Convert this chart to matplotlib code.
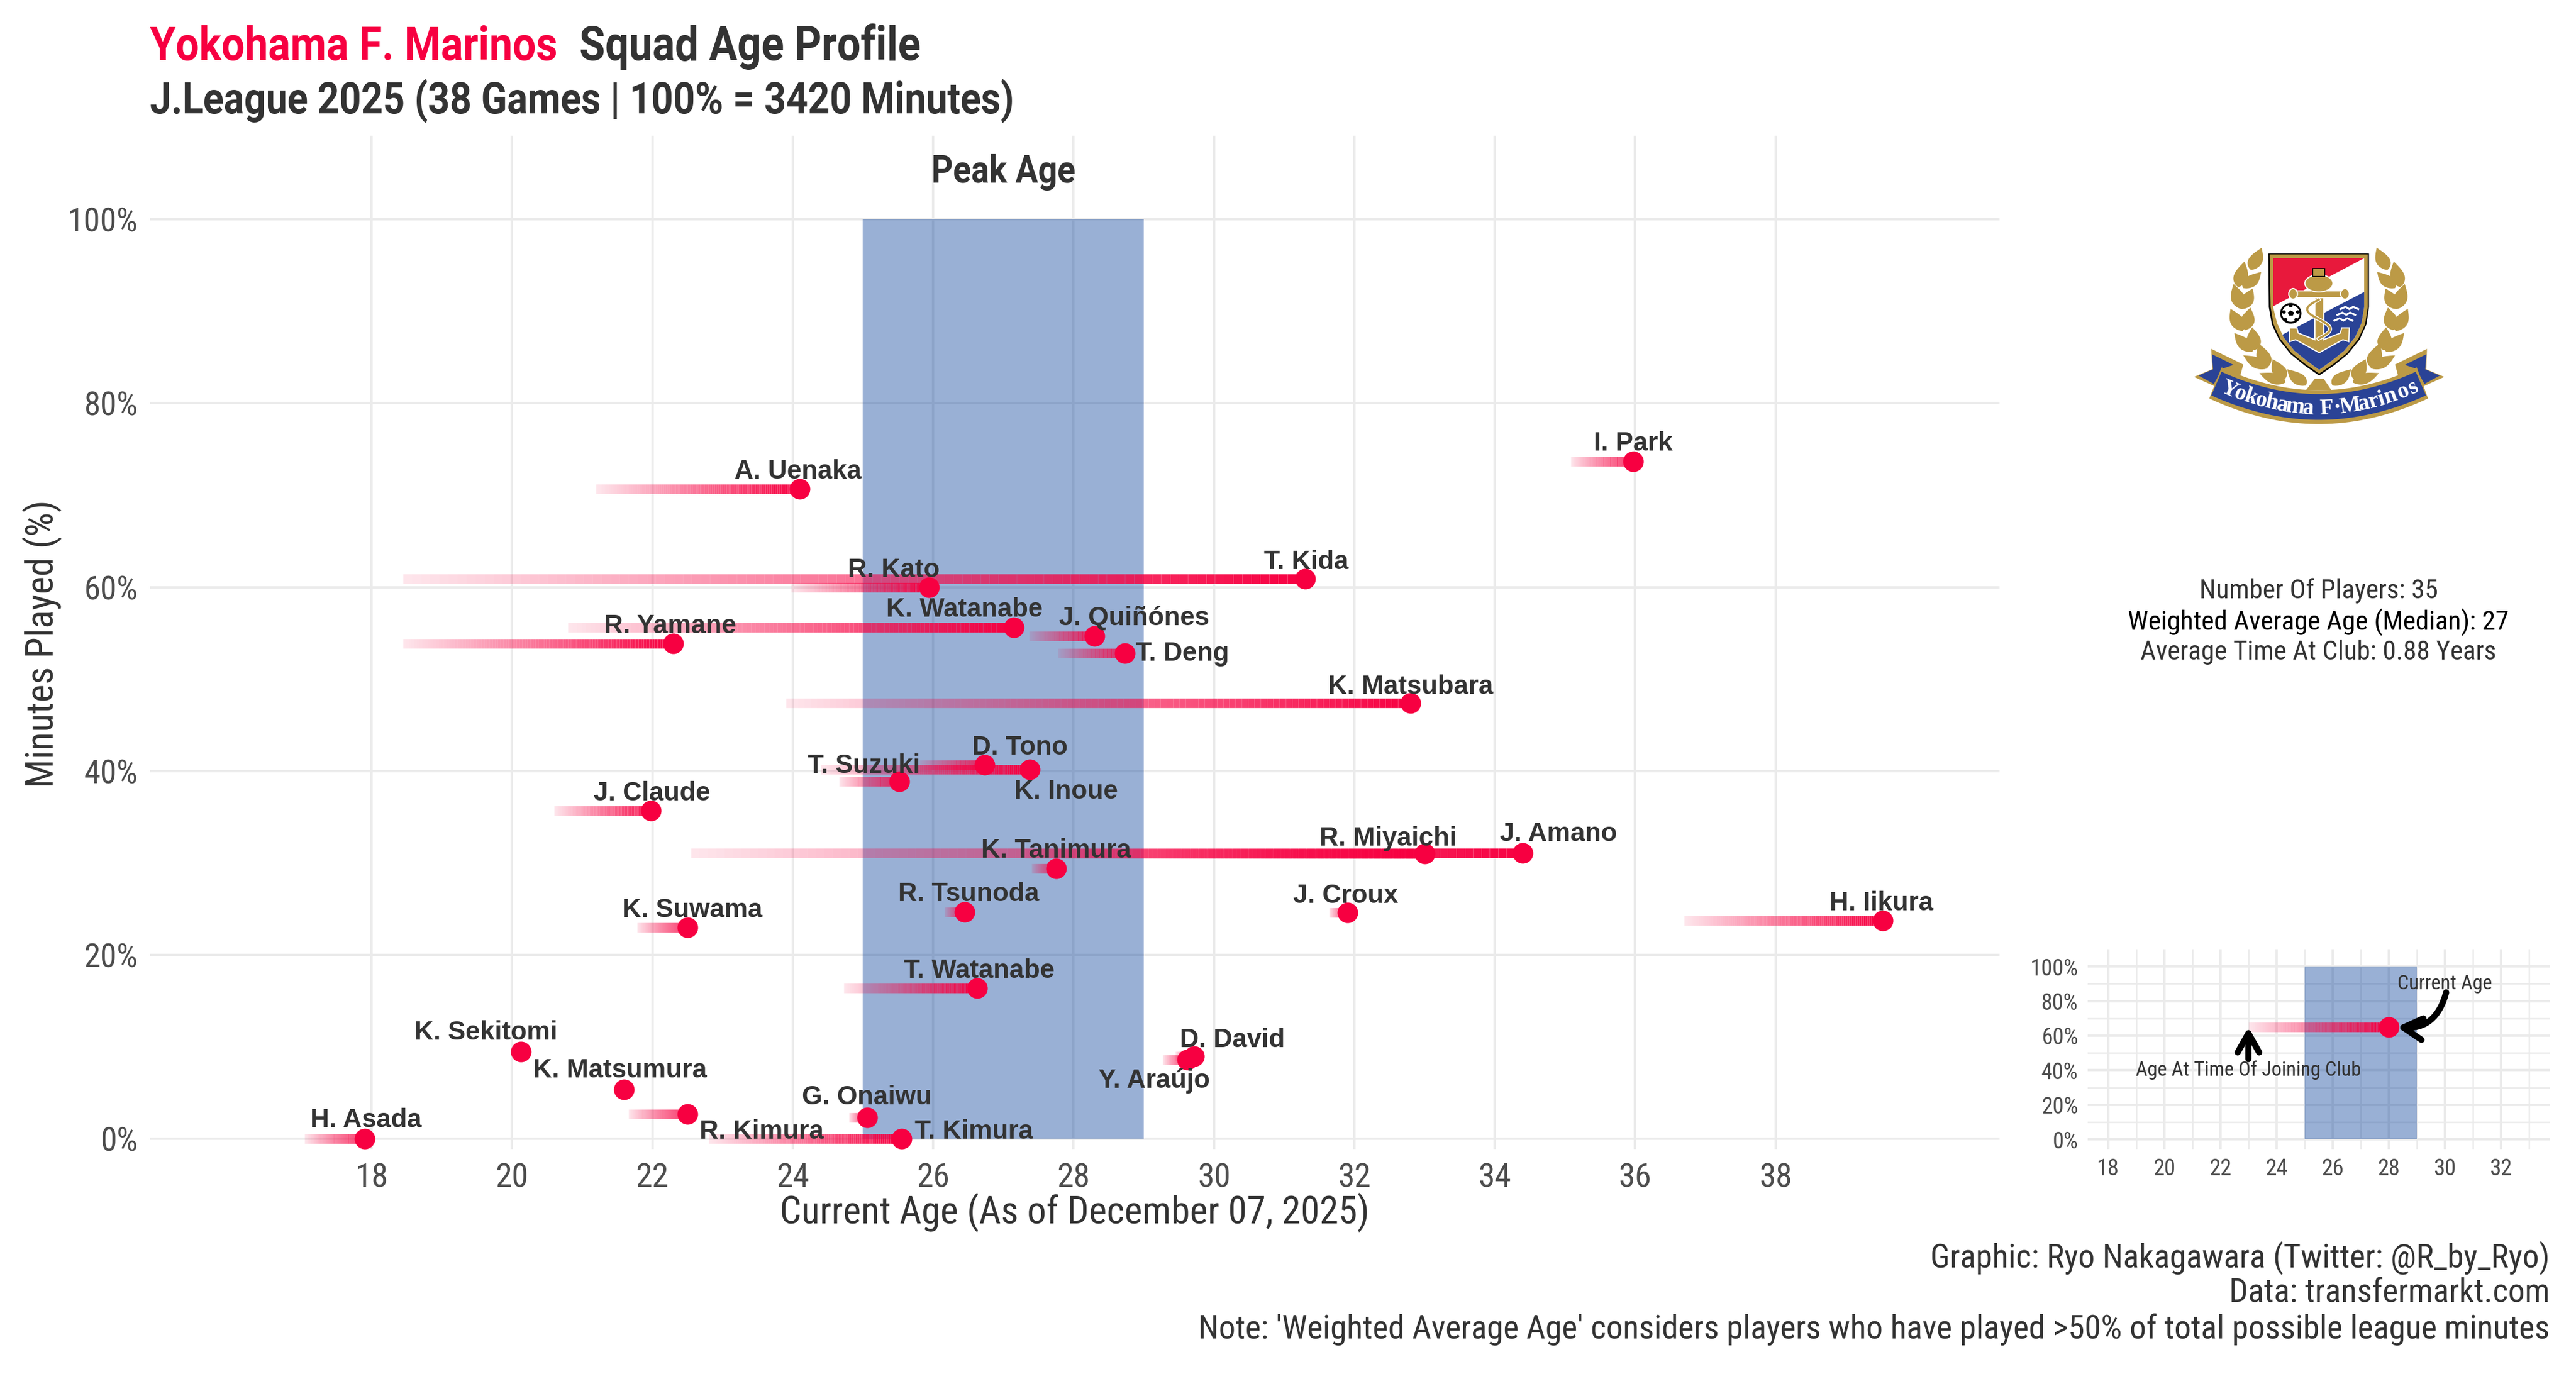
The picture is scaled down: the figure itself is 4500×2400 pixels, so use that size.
import os
import tempfile
import numpy as np
import matplotlib
matplotlib.use("Agg")
import matplotlib.pyplot as plt
from matplotlib import font_manager as fm
from matplotlib.collections import LineCollection
from matplotlib.patches import Polygon, Ellipse, FancyArrowPatch, Rectangle

W, H = 4500, 2400
RED = "#F70041"
BLUE = "#003A98"
INK = "#333333"
TICK = "#4D4D4D"
GRID = "#EBEBEB"
GOLD = "#BC9A46"
LOGO_BLUE = "#2A4396"
LABEL = "Liberation Sans"

players = ["H. Asada", "K. Sekitomi", "K. Matsumura", "R. Kimura", "T. Kimura", "G. Onaiwu",
           "T. Watanabe", "D. David", "Y. Araújo", "K. Suwama", "R. Tsunoda", "J. Croux",
           "H. Iikura", "K. Tanimura", "R. Miyaichi", "J. Amano", "J. Claude", "T. Suzuki",
           "D. Tono", "K. Inoue", "K. Matsubara", "T. Deng", "J. Quiñónes", "K. Watanabe",
           "R. Yamane", "R. Kato", "T. Kida", "A. Uenaka", "I. Park"]
current_age = [17.9, 20.13, 21.6, 22.5, 25.55, 25.06, 26.63, 29.72, 29.62, 22.5, 26.45, 31.9,
               39.53, 27.75, 33.0, 34.4, 21.98, 25.52, 26.73, 27.38, 32.8, 28.73, 28.3, 27.15,
               22.3, 25.94, 31.3, 24.1, 35.97]
joined_age = [17.05, 20.13, 21.6, 21.66, 22.8, 24.8, 24.73, 29.45, 29.27, 21.78, 26.16, 31.64,
              36.7, 27.4, 27.3, 22.55, 20.6, 24.66, 25.8, 24.4, 23.9, 27.78, 27.37, 20.8,
              18.45, 23.98, 18.45, 21.2, 35.08]
minutes_pct = [0.0, 9.5, 5.4, 2.7, 0.0, 2.3, 16.4, 9.0, 8.6, 23.0, 24.7, 24.6, 23.75, 29.4,
               31.0, 31.1, 35.7, 38.9, 40.7, 40.2, 47.4, 52.8, 54.7, 55.6, 53.9, 60.0, 60.9,
               70.7, 73.7]
# label offsets from each point, in pixels of the reference preview
label_dx = [1, -21.5, -2.5, 45, 44, 0, 1, 23, -20, 3, 2.5, -1, -1, 0, -22, 21.5, 0.5, -21.5,
            21.5, 22, 0, 35, 24, -30, -2, -21.5, 0.5, -1, 0]
label_dy = [11.3, 11.3, 11.3, -10.7, 4.3, 12.3, 10.3, 9.8, -12.7, 10.3, 10.8, 10.3, 10.3, 10.8, 9.3,
            11.3, 10.3, 9.3, 10.3, -13.7, 9.8, -0.2, 10.8, 10.8, 10.3, 10.3, 10.3, 10.3, 10.8]

x_ticks = list(range(18, 40, 2))
y_ticks = [0, 20, 40, 60, 80, 100]
inset_x_ticks = list(range(18, 34, 2))
inset_minor_x = list(range(19, 35, 2))
inset_minor_y = [10, 30, 50, 70, 90]
peak_range = (25, 29)
example = dict(joined=23, current=28, minutes=65)


def condensed_font(weight, family, factor):
    """Derive a condensed family from the installed Roboto (no condensed cut is installed)."""
    from fontTools.ttLib import TTFont
    src = fm.findfont(fm.FontProperties(family="Roboto", weight=weight))
    font = TTFont(src)
    if "fvar" in font:
        from fontTools.varLib import instancer
        axes = {a.axisTag: a.defaultValue for a in font["fvar"].axes}
        if "wght" in axes:
            axes["wght"] = 700 if weight == "bold" else 400
        if "wdth" in axes:
            axes["wdth"] = 75
            factor = 1.0
        font = instancer.instantiateVariableFont(font, axes)
    if factor != 1.0:
        glyf = font["glyf"]
        hmtx = font["hmtx"]
        for gn in font.getGlyphOrder():
            g = glyf[gn]
            if g.isComposite():
                for c in g.components:
                    c.x = int(round(c.x * factor))
            elif g.numberOfContours > 0:
                g.coordinates.scale((factor, 1.0))
                g.coordinates.toInt()
            if hasattr(g, "removeHinting"):
                g.removeHinting()
            adv, lsb = hmtx[gn]
            hmtx[gn] = (int(round(adv * factor)), int(round(lsb * factor)))
        for tag in ("fpgm", "prep", "cvt ", "hdmx", "VDMX", "LTSH", "GPOS", "kern"):
            if tag in font:
                del font[tag]
    for rec in list(font["name"].names):
        if rec.nameID in (1, 4, 16):
            rec.string = family
        elif rec.nameID == 6:
            rec.string = family.replace(" ", "")
        elif rec.nameID in (2, 17):
            rec.string = "Regular"
    font["OS/2"].usWeightClass = 400
    font["OS/2"].fsSelection = (font["OS/2"].fsSelection & ~0x21) | 0x40
    font["head"].macStyle = 0
    path = os.path.join(tempfile.mkdtemp(), family.replace(" ", "") + ".ttf")
    font.save(path)
    fm.fontManager.addfont(path)
    return family


SIZE = 1.0
try:
    REG = condensed_font("normal", "RCond Regular", 0.886)
    BOLD = condensed_font("bold", "RCond Heavy", 0.88)
except Exception:
    REG = BOLD = "Roboto"
    SIZE = 0.88

plt.rcParams["font.family"] = [REG, "DejaVu Sans"]
fig = plt.figure(figsize=(15, 8), dpi=300, facecolor="white")


def axes_px(l, t, r, b, **kw):
    return fig.add_axes([l / W, 1 - b / H, (r - l) / W, (b - t) / H], **kw)


def ftext(x, y, s, size, **kw):
    return fig.text(x / W, 1 - y / H, s, fontsize=size * SIZE, **kw)


def gradient_link(ax, x0, x1, y, lw, z=3, n=100):
    if x1 <= x0:
        return
    xs = np.linspace(x0, x1, n + 1)
    segs = [[(xs[i], y), (xs[i + 1], y)] for i in range(n)]
    base = matplotlib.colors.to_rgb(RED)
    cols = [(*base, 0.1 + 0.9 * i / (n - 1)) for i in range(n)]
    ax.add_collection(LineCollection(segs, colors=cols, linewidths=lw, capstyle="butt", zorder=z))


def style(ax, xlim, ylim, xt, yt, lw, size):
    ax.set_xlim(*xlim)
    ax.set_ylim(*ylim)
    ax.set_xticks(xt)
    ax.set_yticks(yt)
    ax.set_yticklabels([f"{v}%" for v in yt])
    ax.grid(True, color=GRID, lw=lw, zorder=0)
    ax.set_axisbelow(True)
    for s in ax.spines.values():
        s.set_visible(False)
    ax.tick_params(length=0, labelsize=size * SIZE, labelcolor=TICK)


# ---- main panel
ax = axes_px(262, 237, 3493, 2007)
style(ax, (14.845, 41.19), (-1.1, 109.1), x_ticks, y_ticks, 1.0, 14)
ax.tick_params(axis="x", pad=5.6)
ax.tick_params(axis="y", pad=5)
ax.add_patch(Rectangle((peak_range[0], 0), peak_range[1] - peak_range[0], 100,
                       fc=BLUE, alpha=0.4, ec="none", zorder=1))
for a0, a1, m in zip(joined_age, current_age, minutes_pct):
    gradient_link(ax, a0, a1, m, 4.0)
ax.scatter(current_age, minutes_pct, s=(36 / 300 * 72) ** 2, c=RED, linewidths=0, zorder=4, clip_on=False)
K = W / 1568
for name, a, m, dx, dy in zip(players, current_age, minutes_pct, label_dx, label_dy):
    ax.annotate(name, (a, m), xytext=(dx * K, dy * K), textcoords="offset pixels",
                ha="center", va="center", fontsize=11, fontweight="bold",
                family=LABEL, color=INK, zorder=5, annotation_clip=False)
ax.text(27, 105.1, "Peak Age", ha="center", va="center", fontsize=16 * SIZE, fontweight="bold",
        family=BOLD, color=INK)

# ---- titles and notes
ftext(262, 105, "Yokohama F. Marinos", 19.8, fontweight="bold", family=BOLD, color=RED, va="baseline")
ftext(1012, 105, "Squad Age Profile", 20, fontweight="bold", family=BOLD, color=INK, va="baseline")
ftext(262, 198, "J.League 2025 (38 Games | 100% = 3420 Minutes)", 18.2, fontweight="bold", family=BOLD,
      color=INK, va="baseline")
ftext(1877, 2118, "Current Age (As of December 07, 2025)", 16, color=INK, ha="center", va="center")
ftext(74, 1125, "Minutes Played (%)", 16, color=INK, rotation=90, ha="center", va="center")
ftext(4050, 1032, "Number Of Players: 35", 11.3, color=INK, ha="center", va="center")
ftext(4050, 1086, "Weighted Average Age (Median): 27", 11.3, color="black", ha="center", va="center")
ftext(4050, 1139, "Average Time At Club: 0.88 Years", 11.3, color=INK, ha="center", va="center")
ftext(4454, 2197, "Graphic: Ryo Nakagawara (Twitter: @R_by_Ryo)", 13.92, color=INK, ha="right", va="center")
ftext(4454, 2258, "Data: transfermarkt.com", 13.92, color=INK, ha="right", va="center")
ftext(4454, 2322, "Note: 'Weighted Average Age' considers players who have played >50% of total possible league minutes",
      13.92, color=INK, ha="right", va="center")

# ---- inset legend panel
ins = axes_px(3647, 1658, 4454, 2007)
style(ins, (17.27, 33.74), (-5.6, 110), inset_x_ticks, y_ticks, 1.0, 9.5)
ins.set_xticks(inset_minor_x, minor=True)
ins.set_yticks(inset_minor_y, minor=True)
ins.grid(True, which="minor", color=GRID, lw=0.6, zorder=0)
ins.tick_params(which="minor", length=0)
ins.tick_params(axis="x", pad=3.6)
ins.tick_params(axis="y", pad=4)
ins.add_patch(Rectangle((peak_range[0], 0), peak_range[1] - peak_range[0], 100,
                        fc=BLUE, alpha=0.4, ec="none", zorder=1))
gradient_link(ins, example["joined"], example["current"], example["minutes"], 4.0)
ins.scatter([example["current"]], [example["minutes"]], s=(36 / 300 * 72) ** 2, c=RED, linewidths=0, zorder=4)
ins.text(30, 90, "Current Age", ha="center", va="center", fontsize=8.5 * SIZE, color=INK, zorder=6)
ins.text(23, 40, "Age At Time Of Joining Club", ha="center", va="center", fontsize=8.5 * SIZE, color=INK, zorder=6)
head = "->,head_length=8,head_width=4.5"
ins.add_patch(FancyArrowPatch((23, 46.4), (23, 65), arrowstyle=head, color="black", lw=2.6,
                              shrinkA=0, shrinkB=0, capstyle="round", joinstyle="round", zorder=5))
ins.add_patch(FancyArrowPatch((30.05, 85), (28.3, 65), arrowstyle=head, color="black", lw=2.6,
                              connectionstyle="arc3,rad=-0.42", shrinkA=0, shrinkB=0,
                              capstyle="round", joinstyle="round", zorder=5))

# ---- club crest
lg = axes_px(3700, 380, 4400, 780)
lg.set_xlim(0, 1568)
lg.set_ylim(1200, 0)
lg.axis("off")
lg.patch.set_alpha(0)


def leaf(base, tip, width=28, color=GOLD, z=2):
    b, t = np.array(base, float), np.array(tip, float)
    u = t - b
    n = np.array([-u[1], u[0]]) / np.hypot(*u)
    s = np.linspace(0, 1, 18)
    w = width * np.sin(np.pi * s ** 0.75)
    left = b + np.outer(s, u) + np.outer(w, n)
    right = b + np.outer(s, u) - np.outer(w, n)
    lg.add_patch(Polygon(np.vstack([left, right[::-1]]), fc=color, ec="none", zorder=z))


leaves = [((520, 275), (562, 158)), ((470, 365), (495, 230)), ((490, 370), (560, 285)),
          ((483, 480), (452, 348)), ((485, 480), (527, 372)), ((487, 595), (440, 478)),
          ((498, 590), (518, 472)), ((525, 705), (455, 605)), ((535, 695), (525, 575)),
          ((585, 790), (490, 722)), ((585, 785), (550, 660)), ((655, 865), (553, 815)),
          ((650, 850), (605, 742)), ((735, 880), (662, 795))]
for b, t in leaves:
    leaf(b, t)
    leaf((1574 - b[0], b[1]), (1574 - t[0], t[1]))


def arc(x0, x1, y_end, y_mid, n=40):
    xs = np.linspace(x0, x1, n)
    c = (x0 + x1) / 2
    return np.column_stack([xs, y_mid - (y_mid - y_end) * ((xs - c) / ((x1 - x0) / 2)) ** 2])


# ribbon tails
for sgn in (1, -1):
    mx = (lambda p: [(x if sgn == 1 else 1574 - x, y) for x, y in p])
    lg.add_patch(Polygon(mx([(365, 688), (490, 770), (478, 830), (410, 800), (380, 885), (297, 835), (368, 795)]),
                         fc=GOLD, ec="none", zorder=3))
    lg.add_patch(Polygon(mx([(367, 716), (452, 772), (408, 792), (375, 872), (315, 828), (372, 795)]),
                         fc=LOGO_BLUE, ec="none", zorder=4))
# ribbon band
gold_top = arc(405, 1169, 785, 905)
gold_bottom = arc(357, 1213, 948, 1082)
lg.add_patch(Polygon(np.vstack([gold_top, gold_bottom[::-1]]), fc=GOLD, ec="none", zorder=5))
blue_top = arc(405, 1165, 808, 925)
blue_bottom = arc(365, 1205, 932, 1060)
lg.add_patch(Polygon(np.vstack([blue_top, blue_bottom[::-1]]), fc=LOGO_BLUE, ec="none", zorder=6))
lg.add_patch(Polygon([(735, 905), (770, 845), (805, 845), (835, 905)], fc=GOLD, ec="none", zorder=4))

# shield
shield_outer = [(588, 188), (982, 188), (982, 470), (972, 560), (945, 640), (900, 715), (845, 775), (787, 828),
                (730, 775), (675, 715), (630, 640), (602, 560), (590, 470)]
shield_gold = [(593, 193), (977, 193), (977, 470), (967, 558), (940, 636), (896, 710), (842, 768), (787, 818),
               (733, 768), (679, 710), (635, 636), (608, 558), (597, 470)]
shield_field = [(607, 213), (963, 213), (963, 470), (953, 552), (927, 628), (885, 698), (835, 752), (787, 798),
                (740, 752), (690, 698), (648, 628), (622, 552), (607, 470)]
lg.add_patch(Polygon(shield_outer, fc="black", ec="none", zorder=7))
lg.add_patch(Polygon(shield_gold, fc=GOLD, ec="none", zorder=8))
field = Polygon(shield_field, fc="white", ec="none", zorder=9)
lg.add_patch(field)
red_part = Polygon([(607, 213), (963, 213), (607, 465)], fc="#E8193C", ec="none", zorder=10)
lg.add_patch(red_part)
blue_part = Polygon([(963, 390), (620, 630), (787, 830), (990, 600)], fc=LOGO_BLUE, ec="none", zorder=10)
lg.add_patch(blue_part)
blue_part.set_clip_path(field)

# anchor
outline = dict(fc=GOLD, ec="white", lw=0.5)
lg.add_patch(Polygon([(670, 578), (700, 578), (705, 605), (770, 640), (770, 420), (805, 420), (805, 640),
                      (870, 605), (875, 578), (905, 578), (903, 650), (880, 640), (787, 708), (695, 640), (672, 650)],
                     zorder=12, **outline))
lg.add_patch(Rectangle((680, 385), 215, 36, zorder=12, **outline))
lg.add_patch(Ellipse((685, 400), 34, 56, zorder=12, **outline))
lg.add_patch(Ellipse((888, 400), 34, 56, zorder=12, **outline))
lg.add_patch(Ellipse((786, 345), 110, 90, zorder=13, **outline))
lg.add_patch(Rectangle((762, 268), 46, 40, zorder=13, fc=GOLD, ec="black", lw=0.4))
rope_t = np.linspace(430, 635, 30)
rope_x = 785 - 45 * np.sin((rope_t - 430) / 205 * 2 * np.pi)
lg.plot(rope_x, rope_t, color="white", lw=1.6, zorder=14)
lg.plot(rope_x, rope_t, color=GOLD, lw=0.9, zorder=15)
# ball
lg.add_patch(Ellipse((676, 502), 76, 98, fc="white", ec="black", lw=0.8, zorder=12))
lg.add_patch(Polygon([(664, 497), (676, 487), (689, 497), (684, 514), (669, 514)], fc="black", ec="none", zorder=13))
for cx, cy in [(676, 462), (649, 495), (703, 495), (655, 535), (697, 535)]:
    lg.add_patch(Ellipse((cx, cy), 14, 18, fc="black", ec="none", zorder=13))
# gulls
for x0, y0 in [(905, 480), (893, 510), (882, 540)]:
    lg.plot([x0 - 35, x0 - 15, x0, x0 + 15, x0 + 35], [y0, y0 - 12, y0, y0 - 12, y0],
            color="white", lw=0.8, zorder=12)
# ribbon lettering
letters = list("Yokohama F·Marinos")
letter_x = [435, 478, 520, 560, 600, 643, 692, 745, 790, 815, 858, 908, 962, 1002, 1030, 1068, 1115, 1155]
for ch, x in zip(letters, letter_x):
    y = 1002 - 105 * ((x - 787) / 360) ** 2
    slope = 2 * 105 * (x - 787) / 360 ** 2 * (400 / 1200) / (700 / 1568)
    lg.text(x, y, ch, ha="center", va="center", fontsize=9.5, fontweight="bold", family="Liberation Serif",
            color="white", rotation=np.degrees(np.arctan(slope)), rotation_mode="anchor", zorder=16)

fig.savefig("out.png", dpi=300, facecolor="white")
